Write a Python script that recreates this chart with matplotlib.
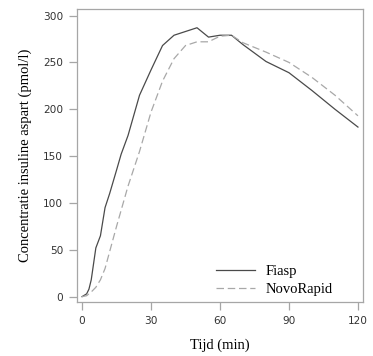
import matplotlib
matplotlib.use("Agg")
import matplotlib.pyplot as plt

# Fiasp (solid)
fiasp_t = [0, 2, 3, 4, 5, 6, 8, 10, 12, 15, 17, 20, 25, 30, 35, 40, 50, 55, 60, 65, 70, 80, 90, 100, 110, 120]
fiasp_v = [0, 3, 8, 18, 35, 52, 65, 95, 110, 135, 152, 172, 215, 242, 268, 279, 287, 277, 279, 279, 269, 251, 239, 220, 200, 181]

# NovoRapid (dashed)
novo_t = [0, 2, 4, 6, 8, 10, 12, 15, 20, 25, 30, 35, 40, 45, 50, 55, 60, 65, 70, 80, 90, 100, 110, 120]
novo_v = [0, 1, 5, 10, 18, 30, 48, 75, 118, 155, 197, 230, 254, 268, 272, 272, 278, 279, 271, 261, 250, 234, 215, 193]

x_ticks = [0, 30, 60, 90, 120]
y_ticks = [0, 50, 100, 150, 200, 250, 300]

serif = ["Liberation Serif", "DejaVu Serif"]
edge = "#a6a6a6"

fig = plt.figure(figsize=(3.73, 3.56), dpi=100)
ax = fig.add_axes([0.2064, 0.1517, 0.7668, 0.823])

ax.plot(fiasp_t, fiasp_v, color="#4a4a4a", lw=0.9, label="Fiasp")
ax.plot(novo_t, novo_v, color="#a8a8a8", lw=0.9, dashes=(6, 3), label="NovoRapid")

ax.set_xlim(-2.2, 122.2)
ax.set_ylim(-5.7, 307)
ax.set_xticks(x_ticks)
ax.set_yticks(y_ticks)

for s in ax.spines.values():
    s.set_color(edge)
    s.set_linewidth(0.9)
ax.tick_params(colors=edge, labelcolor="#333333", labelsize=7.6, length=6, width=0.9, pad=4)

ax.set_xlabel("Tijd (min)", family=serif, fontsize=10.5, labelpad=9)
ax.set_ylabel("Concentratie insuline aspart (pmol/l)", family=serif, fontsize=10.5, labelpad=8)

ax.legend(loc="lower right", frameon=False, prop={"family": serif, "size": 10.5},
          handlelength=2.7, handletextpad=0.7, labelspacing=0.35,
          bbox_to_anchor=(0.94, -0.025))

fig.savefig("out.png", dpi=100)
